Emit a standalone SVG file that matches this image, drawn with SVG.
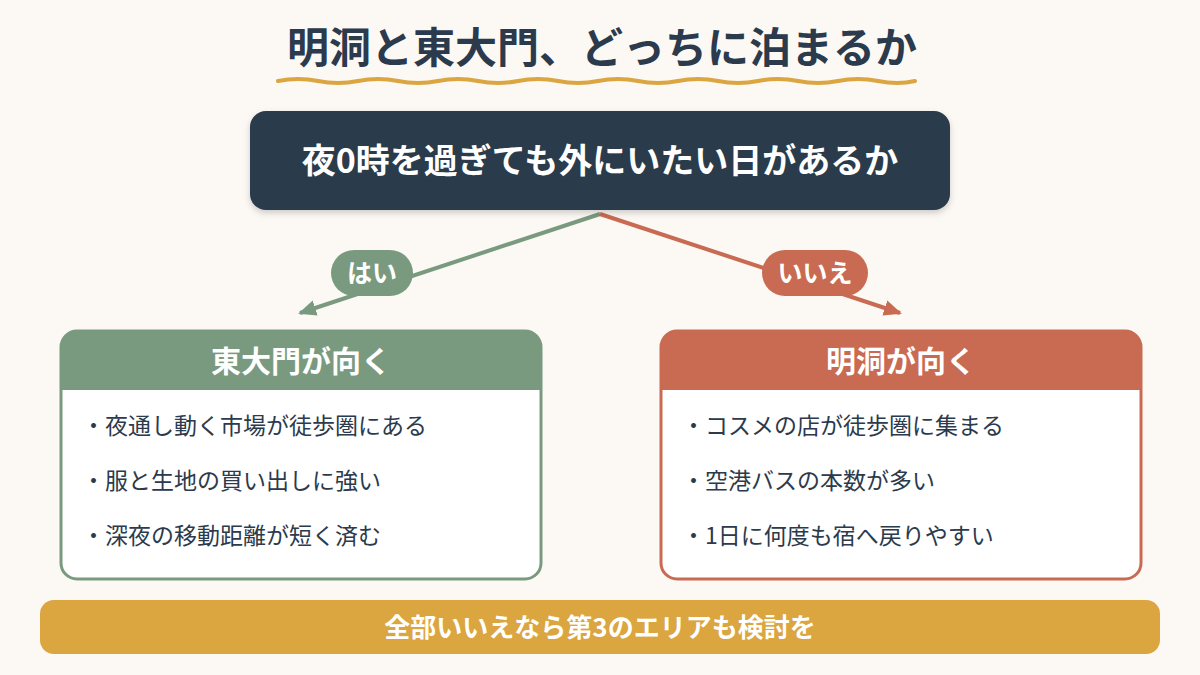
<svg xmlns="http://www.w3.org/2000/svg" width="1200" height="675" viewBox="0 0 1200 675">
<style>
text{font-family:"Noto Sans CJK JP","Noto Sans",sans-serif}
.t{fill:#2b3a4c;font-size:42px;font-weight:700}
.w{fill:#fff;font-weight:700}
.b{fill:#2b3a4c;font-size:23px}
</style>
<defs>
<marker id="ag" markerWidth="20" markerHeight="16" refX="16" refY="8" orient="auto" markerUnits="userSpaceOnUse"><path d="M0,0 L18,8 L0,16 Z" fill="#7a9a80"/></marker>
<marker id="ar" markerWidth="20" markerHeight="16" refX="16" refY="8" orient="auto" markerUnits="userSpaceOnUse"><path d="M0,0 L18,8 L0,16 Z" fill="#c96a52"/></marker>
<filter id="s" x="-10%" y="-10%" width="120%" height="130%"><feDropShadow dx="0" dy="3" stdDeviation="3" flood-opacity="0.18"/></filter>
</defs>
<rect width="1200" height="675" fill="#fcf8f4"/>
<g id="title">
<text x="602" y="63" text-anchor="middle" class="t">明洞と東大門、どっちに泊まるか</text>
<path d="M278,81 Q298,77 318,81 T358,81 T398,81 T438,81 T478,81 T518,81 T558,81 T598,81 T638,81 T678,81 T718,81 T758,81 T798,81 T838,81 T878,81 T915,81" fill="none" stroke="#dba540" stroke-width="4" stroke-linecap="round"/>
</g>
<g id="connectors">
<line x1="600" y1="214" x2="300" y2="313" stroke="#7a9a80" stroke-width="4" marker-end="url(#ag)"/>
<line x1="600" y1="214" x2="900" y2="313" stroke="#c96a52" stroke-width="4" marker-end="url(#ar)"/>
<g id="label-yes"><rect x="331" y="250" width="82" height="46" rx="23" fill="#7a9a80"/><text x="372" y="282" text-anchor="middle" class="w" font-size="25">はい</text></g>
<g id="label-no"><rect x="762" y="250" width="106" height="46" rx="23" fill="#c96a52"/><text x="815" y="282" text-anchor="middle" class="w" font-size="25">いいえ</text></g>
</g>
<g id="question">
<rect x="250" y="111" width="700" height="99" rx="16" fill="#2b3a4c" filter="url(#s)"/>
<text x="600" y="173" text-anchor="middle" class="w" font-size="34" font-weight="500">夜0時を過ぎても外にいたい日があるか</text>
</g>
<g id="dongdaemun">
<rect x="61" y="331" width="480" height="248" rx="16" fill="#fff" stroke="#7a9a80" stroke-width="3"/>
<path d="M61,390 V347 A16,16 0 0 1 77,331 H525 A16,16 0 0 1 541,347 V390 Z" fill="#7a9a80"/>
<text x="301" y="372" text-anchor="middle" class="w" font-size="30">東大門が向く</text>
<text x="82" y="434" class="b">・夜通し動く市場が徒歩圏にある</text>
<text x="82" y="489" class="b">・服と生地の買い出しに強い</text>
<text x="82" y="544" class="b">・深夜の移動距離が短く済む</text>
</g>
<g id="myeongdong">
<rect x="661" y="331" width="480" height="248" rx="16" fill="#fff" stroke="#c96a52" stroke-width="3"/>
<path d="M661,390 V347 A16,16 0 0 1 677,331 H1125 A16,16 0 0 1 1141,347 V390 Z" fill="#c96a52"/>
<text x="901" y="372" text-anchor="middle" class="w" font-size="30">明洞が向く</text>
<text x="682" y="434" class="b">・コスメの店が徒歩圏に集まる</text>
<text x="682" y="489" class="b">・空港バスの本数が多い</text>
<text x="682" y="544" class="b">・1日に何度も宿へ戻りやすい</text>
</g>
<g id="footer">
<rect x="40" y="600" width="1120" height="54" rx="14" fill="#dba540"/>
<text x="600" y="637" text-anchor="middle" class="w" font-size="26">全部いいえなら第3のエリアも検討を</text>
</g>
</svg>
